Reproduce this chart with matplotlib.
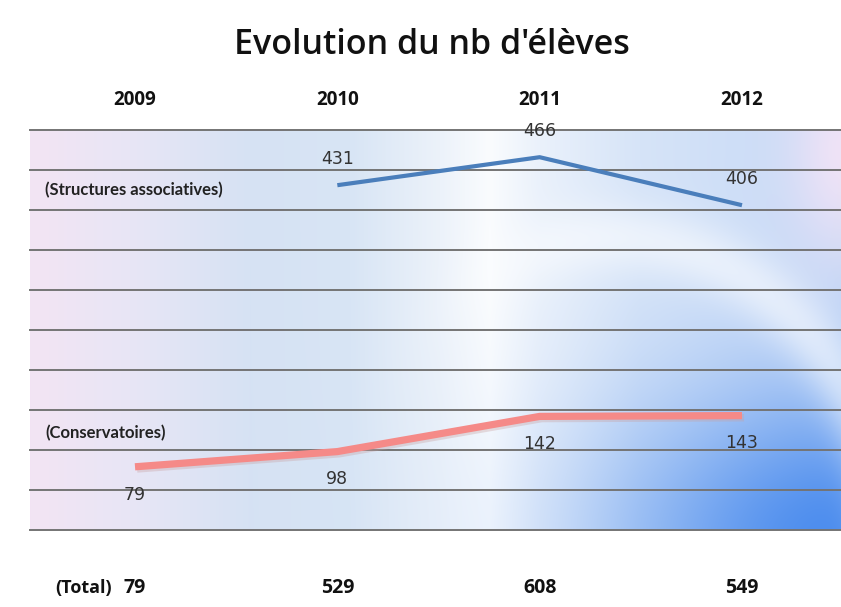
import numpy as np
import matplotlib
matplotlib.use("Agg")
import matplotlib.pyplot as plt
import matplotlib.transforms as mtransforms

# ---- data ----
years = ["2009", "2010", "2011", "2012"]
structures = [np.nan, 431, 466, 406]
conservatoires = [79, 98, 142, 143]
totals = [79, 529, 608, 549]
grid_values = list(range(0, 501, 50))

title = "Evolution du nb d'élèves"

W, H = 841, 607
fig = plt.figure(figsize=(W / 100, H / 100), dpi=100)
fig.patch.set_facecolor("white")

ax_l, ax_r, ax_t, ax_b = 30, 841, 130, 530
ax = fig.add_axes([ax_l / W, (H - ax_b) / H, (ax_r - ax_l) / W, (ax_b - ax_t) / H])
x = np.arange(len(years))
px_per = 202.33
ax.set_xlim((ax_l - 135) / px_per, (ax_r - 135) / px_per)
ax.set_ylim(0, 500)
for s in ax.spines.values():
    s.set_visible(False)
ax.set_xticks([])
ax.set_yticks(grid_values)
ax.tick_params(left=False, labelleft=False)
ax.yaxis.grid(True, color="#747474", linewidth=1.4)
ax.set_axisbelow(True)
for gl in ax.get_ygridlines():
    gl.set_clip_on(False)
    gl.set_zorder(1)

# ---- background gradient ----
bw, bh = ax_r - ax_l, ax_b - ax_t
xs = np.linspace(ax_l, ax_r, bw)
ys = np.linspace(ax_t, ax_b, bh)
XX, YY = np.meshgrid(xs, ys)
stops_x = [30, 130, 250, 350, 440, 490, 540, 640, 760, 841]
stops_c = np.array([
    (243, 228, 243), (232, 230, 246), (214, 226, 243), (216, 229, 245),
    (236, 242, 250), (250, 252, 254), (234, 241, 251), (214, 228, 248),
    (204, 221, 247), (196, 216, 246)], dtype=float) / 255.0
img = np.zeros((bh, bw, 3))
for c in range(3):
    img[:, :, c] = np.interp(XX, stops_x, stops_c[:, c])
# deeper blue at bottom right
f = np.exp(-(((XX - 850) / 230.0) ** 2 + ((YY - 540) / 150.0) ** 2))
blue = np.array([75, 140, 238]) / 255.0
img = img * (1 - f[..., None]) + blue * f[..., None]
# pinkish top right
f2 = np.exp(-(((XX - 845) / 55.0) ** 2 + ((YY - 150) / 110.0) ** 2)) * 0.9
pink = np.array([244, 228, 246]) / 255.0
img = img * (1 - f2[..., None]) + pink * f2[..., None]
# faint white arc
r = np.sqrt((XX - 610) ** 2 + ((YY - 560) / 1.15) ** 2)
side = 1.0 / (1.0 + np.exp(-(XX - 500) / 30.0))
f3 = np.exp(-((r - 280) / 30.0) ** 2) * 0.55 * side
img = img * (1 - f3[..., None]) + 1.0 * f3[..., None]
ax.imshow(img, extent=[ax.get_xlim()[0], ax.get_xlim()[1], 0, 500],
          aspect="auto", zorder=0, interpolation="bilinear")

# ---- lines ----
ax.plot(x, conservatoires, color="#c8a0a0", lw=5.5, alpha=0.35, zorder=2,
        solid_capstyle="butt",
        transform=ax.transData + mtransforms.ScaledTranslation(1.5 / 72, -1.5 / 72, fig.dpi_scale_trans))
ax.plot(x, conservatoires, color="#f58a88", lw=5.2, zorder=3, solid_capstyle="butt")
ax.plot(x, structures, color="#4a7ebb", lw=3.0, zorder=3, solid_capstyle="butt")

for xi, v in zip(x, structures):
    if not np.isnan(v):
        ax.annotate(f"{int(v)}", (xi, v), xytext=(0, 19), textcoords="offset points",
                    ha="center", va="center", fontsize=12.5, color="#333333",
                    family="DejaVu Sans", zorder=4)
for xi, v in zip(x, conservatoires):
    ax.annotate(f"{int(v)}", (xi, v), xytext=(0, -20), textcoords="offset points",
                ha="center", va="center", fontsize=12.5, color="#333333",
                family="DejaVu Sans", zorder=4)

# series labels
fig.text(45 / W, 1 - 190 / H, "(Structures associatives)", fontsize=12, fontweight="bold",
         family="Lato", color="#222222", va="center", ha="left")
fig.text(45 / W, 1 - 433 / H, "(Conservatoires)", fontsize=12, fontweight="bold",
         family="Lato", color="#222222", va="center", ha="left")

# year labels on top
top_tr = mtransforms.blended_transform_factory(ax.transData, fig.transFigure)
for xi, yl in zip(x, years):
    ax.text(xi, 1 - 100 / H, yl, transform=top_tr, ha="center", va="center",
            fontsize=13.5, fontweight="bold", family="Open Sans", color="#111111")

# totals row
fig.text(55 / W, 1 - 588 / H, "(Total)", fontsize=13, fontweight="bold",
         family="Open Sans", color="#111111", va="center", ha="left")
for xi, t in zip(x, totals):
    ax.text(xi, 1 - 588 / H, f"{t}", transform=top_tr, ha="center", va="center",
            fontsize=14, fontweight="bold", family="Open Sans", color="#111111", clip_on=False)

fig.text(432 / W, 1 - 45 / H, title, fontsize=24.5, family="Open Sans", fontweight="semibold",
         color="#111111", ha="center", va="center")

fig.savefig("out.png", dpi=100, facecolor="white")
